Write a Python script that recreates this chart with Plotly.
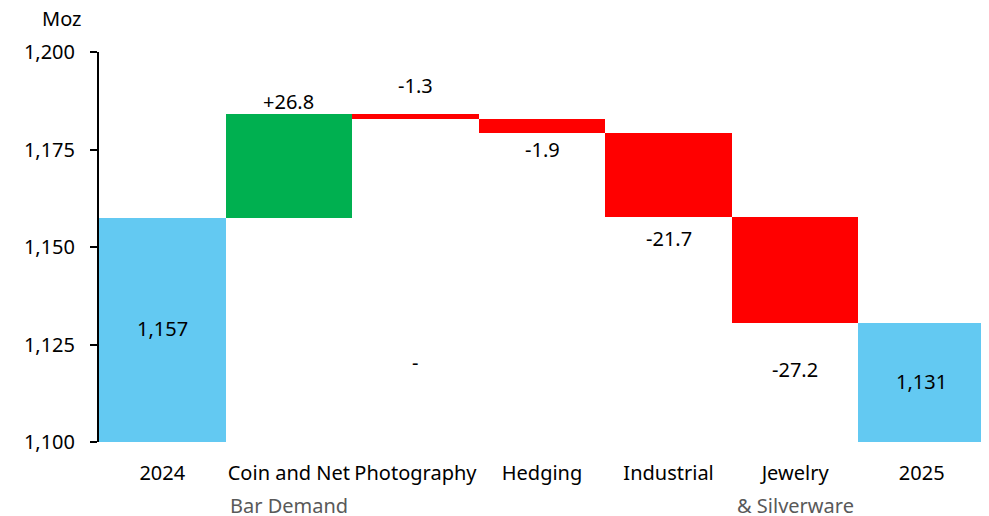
import plotly.graph_objects as go

# ---------------------------------------------------
# Data (Moz)
# ---------------------------------------------------

categories = ["2024", "Coin and Net", "Photography", "Hedging", "Industrial", "Jewelry", "2025"]
subtitles = ["", "Bar Demand", "", "", "", "& Silverware", ""]

bar_base = [1100, 1157.4, 1182.9, 1179.3, 1157.6, 1130.6, 1100]
bar_height = [57.4, 26.7, 1.2, 3.4, 21.7, 27.0, 30.6]
value_labels = ["1,157", "+26.8", "-1.3", "-1.9", "-21.7", "-27.2", "1,131"]

bar_colors = ["#63C9F2", "#00B050", "#FF0000", "#FF0000", "#FF0000", "#FF0000", "#63C9F2"]

# where the value labels sit (data units, centre of text)
label_y = [1129.0, 1187.4, 1191.5, 1175.1, 1152.3, 1118.7, 1115.4]

FONT = "Noto Sans"
FS = 20

# ---------------------------------------------------
# Waterfall built from floating bars
# ---------------------------------------------------

fig = go.Figure(
    go.Bar(
        x=categories,
        y=bar_height,
        base=bar_base,
        marker=dict(color=bar_colors, line=dict(width=0)),
        hoverinfo="skip",
    )
)

annotations = []
# category axis: annotations use the index so "2024" isn't read as a number
for i, (txt, ly) in enumerate(zip(value_labels, label_y)):
    annotations.append(dict(
        x=i, y=ly, xref="x", yref="y", text=txt, showarrow=False,
        xanchor="center", yanchor="middle",
        font=dict(size=FS, color="#000000", family=FONT),
    ))

# stray "-" label under Photography
annotations.append(dict(
    x=2, y=1120.5, xref="x", yref="y", text="-", showarrow=False,
    xanchor="center", yanchor="middle",
    font=dict(size=FS, color="#000000", family=FONT),
))

for i, sub in enumerate(subtitles):
    if sub:
        annotations.append(dict(
            x=i, y=-0.164, xref="x", yref="paper", text=sub, showarrow=False,
            xanchor="center", yanchor="middle",
            font=dict(size=FS, color="#595959", family=FONT),
        ))

annotations.append(dict(
    x=-0.042, y=1.085, xref="paper", yref="paper", text="Moz", showarrow=False,
    xanchor="center", yanchor="middle",
    font=dict(size=FS, color="#000000", family=FONT),
))

# page body adds an 8px offset, margins allow for it
fig.update_layout(
    width=989,
    height=516,
    margin=dict(l=91, r=12, t=44, b=82),
    paper_bgcolor="white",
    plot_bgcolor="white",
    bargap=0,
    showlegend=False,
    font=dict(family=FONT, size=FS, color="#000000"),
    annotations=annotations,
    xaxis=dict(
        type="category",
        range=[-0.5, 6.5],
        automargin=False,
        showline=False,
        showgrid=False,
        ticks="",
        ticklabelstandoff=17,
        tickfont=dict(size=FS, color="#000000"),
    ),
    yaxis=dict(
        range=[1100, 1200],
        tickvals=[1100, 1125, 1150, 1175, 1200],
        tickformat=",",
        automargin=False,
        showgrid=False,
        zeroline=False,
        showline=True,
        linecolor="#000000",
        linewidth=2,
        ticks="outside",
        ticklen=7,
        tickwidth=2,
        tickcolor="#000000",
        ticklabelstandoff=11,
        tickfont=dict(size=FS, color="#000000"),
    ),
)

fig.write_html("out.html")
